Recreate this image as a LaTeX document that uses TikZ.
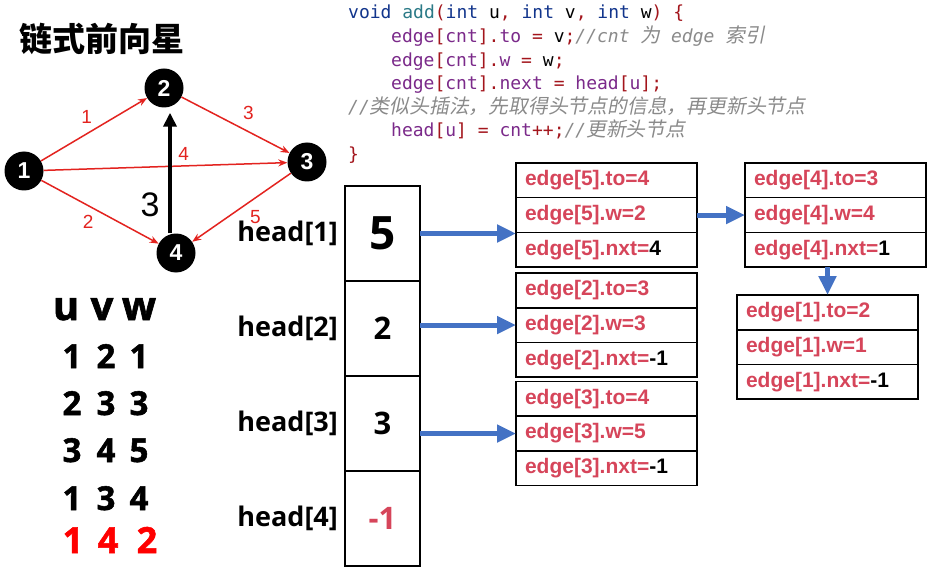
\documentclass[tikz,border=0pt]{standalone}
\usepackage{fontspec}
\setmainfont{Liberation Sans}
\setmonofont{DejaVu Sans Mono}
\newfontfamily\cjk{Noto Sans CJK SC}
\newfontfamily\cjkit[FakeSlant=0.2,Scale=1.1]{Noto Sans CJK SC}
\newfontfamily\boldsans{Open Sans}
\newfontfamily\tabfont[BoldFeatures={FakeBold=1.6}]{Open Sans}
\usetikzlibrary{positioning}
\usetikzlibrary{arrows.meta}

\definecolor{edgered}{HTML}{D6455A}
\definecolor{linkblue}{HTML}{4472C4}
\definecolor{arcred}{HTML}{E3231F}
\definecolor{kwblue}{HTML}{12358C}
\definecolor{fnteal}{HTML}{2B7A87}
\definecolor{idpurple}{HTML}{7B2A8A}
\definecolor{pured}{HTML}{A3151C}
\definecolor{cmgray}{HTML}{8A8A8A}

\newcommand\kw[1]{\textcolor{kwblue}{#1}}
\newcommand\fn[1]{\textcolor{fnteal}{#1}}
\newcommand\id[1]{\textcolor{idpurple}{#1}}
\newcommand\pu[1]{\textcolor{pured}{#1}}
\newcommand\cm[1]{\textcolor{cmgray}{\itshape #1}}

\begin{document}
\begin{tikzpicture}[
        x = 1pt, y = -1pt,
        vtx/.style = {
            circle,
            fill = black,
            text = white,
            minimum size = 39pt,
            inner sep = 0pt,
            font = \bfseries\fontsize{23}{23}\selectfont
        },
        arc/.style = {draw = arcred, line width = 1.5pt, -{Stealth[length=9pt, width=7pt]}},
        wlabel/.style = {text = arcred, inner sep = 0pt, font = \fontsize{19}{19}\selectfont},
        codeline/.style = {anchor = base west, inner sep = 0pt, font = \ttfamily\fontsize{18}{18}\selectfont},
        cell/.style = {
            draw,
            line width = 1.8pt,
            outer sep = 0pt,
            inner sep = 0pt,
            minimum width = 75pt,
            minimum height = 95pt,
            font = \boldsans\bfseries\fontsize{31}{31}\selectfont
        },
        hlabel/.style = {inner sep = 0pt, font = \boldsans\bfseries\fontsize{27}{27}\selectfont},
        rec/.style = {
            draw,
            line width = 1.6pt,
            outer sep = 0pt,
            text width = 163pt,
            inner xsep = 9pt,
            inner ysep = 0pt,
            minimum height = 34.7pt,
            align = left,
            text = edgered,
            font = \bfseries\fontsize{21}{21}\selectfont
        },
        link/.style = {draw = linkblue, line width = 5pt, -{Triangle[width=17pt, length=19pt]}},
        tab/.style = {anchor = base, inner sep = 0pt, font = \tabfont\bfseries\fontsize{33}{33}\selectfont}
        ]
%
        \fill[white] (0,0) rectangle (933,577);
        \useasboundingbox (0,0) rectangle (933,577);
%
        \node[anchor=west, inner sep=0pt, font=\cjk\bfseries\fontsize{33}{33}\selectfont] (title) at (19,39) {链式前向星};
%
% graph
        \node[vtx] (v1) at (24,171) {1};
        \node[vtx] (v2) at (164,88) {2};
        \node[vtx] (v3) at (307,162) {3};
        \node[vtx] (v4) at (176,253) {4};
%
        \draw[arc] (v1) -- (v2) node[wlabel, pos=0.43, yshift=17pt] (w1) {1};
        \draw[arc] (v1) -- (v4) node[wlabel, pos=0.4, yshift=-16pt] (w2) {2};
        \draw[arc] (v2) -- (v3) node[wlabel, pos=0.62, yshift=19pt] (w3) {3};
        \draw[arc] (v1) -- (v3) node[wlabel, pos=0.575, yshift=12pt] (w4) {4};
        \draw[arc] (v3) -- (v4) node[wlabel, pos=0.36, yshift=-19pt] (w5) {5};
%
        \draw[line width=4pt, -{Triangle[width=13pt, length=14pt]}] (v4.north -| 170,0) -- ([yshift=-5pt]v2.south -| 170,0);
        \node[inner sep=0pt, font=\fontsize{34}{34}\selectfont] (hand3) at (150,205) {3};
%
% table
        \node[tab, font=\tabfont\bfseries\fontsize{40}{40}\selectfont] (tu) at (66,320) {u};
        \node[tab, font=\tabfont\bfseries\fontsize{40}{40}\selectfont] (tv) at (102,320) {v};
        \node[tab, font=\tabfont\bfseries\fontsize{40}{40}\selectfont] (tw) at (139,320) {w};
%
        \node[tab] (t11) at (72,368) {1};
        \node[tab] (t12) at (106,368) {2};
        \node[tab] (t13) at (139,368) {1};
%
        \node[tab] (t21) at (72,415) {2};
        \node[tab] (t22) at (106,415) {3};
        \node[tab] (t23) at (139,415) {3};
%
        \node[tab] (t31) at (72,462) {3};
        \node[tab] (t32) at (106,462) {4};
        \node[tab] (t33) at (139,462) {5};
%
        \node[tab] (t41) at (72,510) {1};
        \node[tab] (t42) at (106,510) {3};
        \node[tab] (t43) at (139,510) {4};
%
        \node[tab, red, font=\tabfont\bfseries\fontsize{36}{36}\selectfont] (t51) at (73,553) {1};
        \node[tab, red, font=\tabfont\bfseries\fontsize{36}{36}\selectfont] (t52) at (108,553) {4};
        \node[tab, red, font=\tabfont\bfseries\fontsize{36}{36}\selectfont] (t53) at (147,553) {2};
%
% code
        \node[codeline] (c1) at (348,19) {\kw{void} \fn{add}\pu{(}\kw{int} u\pu{,} \kw{int} v\pu{,} \kw{int} w\pu{)} \pu{\{}};
        \node[codeline] (c2) at (391,43) {\id{edge}\pu{[}\id{cnt}\pu{].}\id{to} \pu{=} v\pu{;}\cm{//cnt {\cjkit 为} edge {\cjkit 索引}}};
        \node[codeline] (c3) at (391,66.5) {\id{edge}\pu{[}\id{cnt}\pu{].}\id{w} \pu{=} w\pu{;}};
        \node[codeline] (c4) at (391,90) {\id{edge}\pu{[}\id{cnt}\pu{].}\id{next} \pu{=} \id{head}\pu{[}\id{u}\pu{];}};
        \node[codeline] (c5) at (348,113.5) {\cm{//{\cjkit 类似头插法，先取得头节点的信息，再更新头节点}}};
        \node[codeline] (c6) at (391,137) {\id{head}\pu{[}\id{u}\pu{]} \pu{=} \id{cnt}\pu{++;}\cm{//{\cjkit 更新头节点}}};
        \node[codeline] (c7) at (348,160.5) {\pu{\}}};
%
% head array
        \node[cell, anchor=north west] (h1) at (345,186) {\fontsize{46}{46}\selectfont 5};
        \node[cell, below=0pt of h1] (h2) {2};
        \node[cell, below=0pt of h2] (h3) {3};
        \node[cell, below=0pt of h3, text=edgered] (h4) {-1};
%
        \node[hlabel, left=7pt of h1] (lh1) {head[1]};
        \node[hlabel, left=7pt of h2] (lh2) {head[2]};
        \node[hlabel, left=7pt of h3] (lh3) {head[3]};
        \node[hlabel, left=7pt of h4] (lh4) {head[4]};
%
% edge records
        \node[rec, anchor=north west] (e5to) at (516,163) {edge[5].to=4};
        \node[rec, below=0pt of e5to] (e5w) {edge[5].w=2};
        \node[rec, below=0pt of e5w] (e5nxt) {edge[5].nxt=\textcolor{black}{4}};
%
        \node[rec, anchor=north west] (e2to) at (516,273) {edge[2].to=3};
        \node[rec, below=0pt of e2to] (e2w) {edge[2].w=3};
        \node[rec, below=0pt of e2w] (e2nxt) {edge[2].nxt=\textcolor{black}{-1}};
%
        \node[rec, anchor=north west] (e3to) at (516,381.5) {edge[3].to=4};
        \node[rec, below=0pt of e3to] (e3w) {edge[3].w=5};
        \node[rec, below=0pt of e3w] (e3nxt) {edge[3].nxt=\textcolor{black}{-1}};
%
        \node[rec, anchor=north west] (e4to) at (745,163) {edge[4].to=3};
        \node[rec, below=0pt of e4to] (e4w) {edge[4].w=4};
        \node[rec, below=0pt of e4w] (e4nxt) {edge[4].nxt=\textcolor{black}{1}};
%
        \node[rec, anchor=north west] (e1to) at (737,295) {edge[1].to=2};
        \node[rec, below=0pt of e1to] (e1w) {edge[1].w=1};
        \node[rec, below=0pt of e1w] (e1nxt) {edge[1].nxt=\textcolor{black}{-1}};
%
% links
        \draw[link] (h1.east) -- (h1.east -| e5w.west);
        \draw[link] (h2.east |- e2w.west) -- (e2w.west);
        \draw[link] (h3.east |- e3w.west) -- (e3w.west);
        \draw[link] (e5w.east) -- (e4w.west);
        \draw[link] (e4nxt.south -| e1to.north) -- (e1to.north);
%
    \end{tikzpicture}
\end{document}
